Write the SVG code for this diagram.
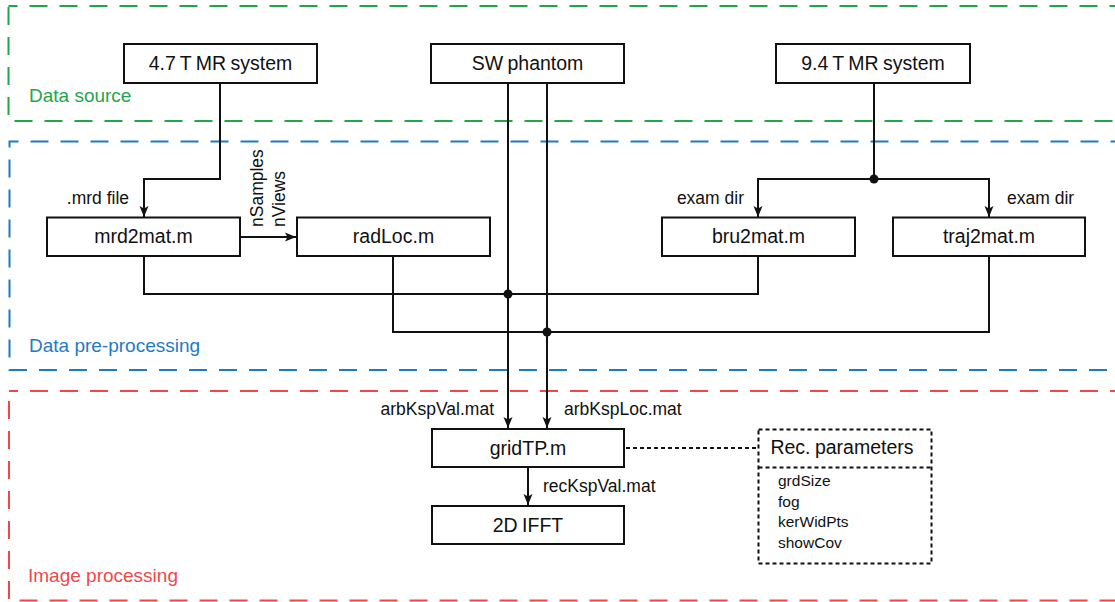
<svg xmlns="http://www.w3.org/2000/svg" width="1115" height="602" viewBox="0 0 1115 602">
<style>
text{font-family:"Liberation Sans",Arial,sans-serif;fill:#111}
.grp{fill:none;stroke-width:2;stroke-dasharray:18 12;stroke-dashoffset:9}
.gl{font-size:19px}
.box{fill:#fff;stroke:#111;stroke-width:2}
.nt{font-size:19.5px;text-anchor:middle;word-spacing:-1px}
.lb{font-size:17.5px}
.ln{fill:none;stroke:#111;stroke-width:2}
.dash{fill:none;stroke:#111;stroke-width:2;stroke-dasharray:4 3}
.it{font-size:15.5px}
</style>
<defs>
<marker id="ah" markerUnits="userSpaceOnUse" markerWidth="12" markerHeight="10" viewBox="0 0 12 10" refX="11" refY="5" orient="auto">
<path d="M0,0.5 L11,5 L0,9.5 L2.5,5 z" fill="#111"/>
</marker>
</defs>

<g id="groups">
<rect class="grp" x="8.5" y="6" width="1120" height="115" stroke="#1fa64a"/>
<text class="gl" x="29" y="102" style="fill:#1fa64a">Data source</text>
<rect class="grp" x="9.5" y="141.5" width="1120" height="228.5" stroke="#1f7ac4"/>
<text class="gl" x="29" y="352" style="fill:#1f7ac4">Data pre-processing</text>
<rect class="grp" x="9" y="391" width="1120" height="209.5" stroke="#f0474a"/>
<text class="gl" x="28" y="582" style="fill:#f0474a">Image processing</text>
</g>

<g id="connectors">
<polyline class="ln" points="220,83 220,179 144,179 144,217" marker-end="url(#ah)"/>
<line class="ln" x1="240" y1="237" x2="296" y2="237" marker-end="url(#ah)"/>
<line class="ln" x1="508" y1="83" x2="508" y2="428" marker-end="url(#ah)"/>
<line class="ln" x1="547" y1="83" x2="547" y2="428" marker-end="url(#ah)"/>
<line class="ln" x1="874" y1="83" x2="874" y2="179"/>
<polyline class="ln" points="758,217 758,179 989,179 989,217" marker-end="url(#ah)"/>
<line class="ln" x1="758" y1="179" x2="758" y2="217" marker-end="url(#ah)"/>
<polyline class="ln" points="144,256 144,294 758,294 758,256"/>
<polyline class="ln" points="393,256 393,332 989,332 989,256"/>
<circle cx="874" cy="179" r="4.5" fill="#111"/>
<circle cx="508" cy="294" r="4.5" fill="#111"/>
<circle cx="547" cy="332" r="4.5" fill="#111"/>
<line class="ln" x1="528" y1="467" x2="528" y2="505" marker-end="url(#ah)"/>
<line class="dash" x1="626" y1="448" x2="758" y2="448"/>
<text class="lb" x="129" y="204" text-anchor="end">.mrd file</text>
<text class="lb" transform="translate(263,227) rotate(-90)">nSamples</text>
<text class="lb" transform="translate(285,227) rotate(-90)">nViews</text>
<text class="lb" x="744" y="204" text-anchor="end">exam dir</text>
<text class="lb" x="1007" y="204">exam dir</text>
<text class="lb" x="494" y="415" text-anchor="end">arbKspVal.mat</text>
<text class="lb" x="564" y="415">arbKspLoc.mat</text>
<text class="lb" x="543" y="492">recKspVal.mat</text>
</g>

<g id="n47">
<rect class="box" x="124" y="44" width="193" height="39"/>
<text class="nt" x="220.5" y="70">4.7 T MR system</text>
</g>
<g id="sw">
<rect class="box" x="431" y="44" width="193" height="39"/>
<text class="nt" x="527.5" y="70">SW phantom</text>
</g>
<g id="n94">
<rect class="box" x="776" y="44" width="194" height="39"/>
<text class="nt" x="873" y="70">9.4 T MR system</text>
</g>
<g id="mrd2mat">
<rect class="box" x="47" y="217.5" width="193" height="38.5"/>
<text class="nt" x="143.5" y="243">mrd2mat.m</text>
</g>
<g id="radLoc">
<rect class="box" x="297" y="217.5" width="193" height="38.5"/>
<text class="nt" x="393.5" y="243">radLoc.m</text>
</g>
<g id="bru2mat">
<rect class="box" x="662" y="217.5" width="193" height="38.5"/>
<text class="nt" x="758.5" y="243">bru2mat.m</text>
</g>
<g id="traj2mat">
<rect class="box" x="893" y="217.5" width="192" height="38.5"/>
<text class="nt" x="989" y="243">traj2mat.m</text>
</g>
<g id="gridTP">
<rect class="box" x="432" y="429" width="192" height="38"/>
<text class="nt" x="528" y="454.5">gridTP.m</text>
</g>
<g id="ifft">
<rect class="box" x="432" y="506" width="192" height="38"/>
<text class="nt" x="528" y="531.5">2D IFFT</text>
</g>
<g id="recparams">
<rect class="dash" x="758.5" y="429.5" width="173" height="134"/>
<line class="dash" x1="758.5" y1="467.5" x2="931.5" y2="467.5"/>
<text class="nt" x="842" y="454">Rec. parameters</text>
<text class="it" x="778" y="486">grdSize</text>
<text class="it" x="778" y="506.5">fog</text>
<text class="it" x="778" y="527">kerWidPts</text>
<text class="it" x="778" y="547.5">showCov</text>
</g>
</svg>
